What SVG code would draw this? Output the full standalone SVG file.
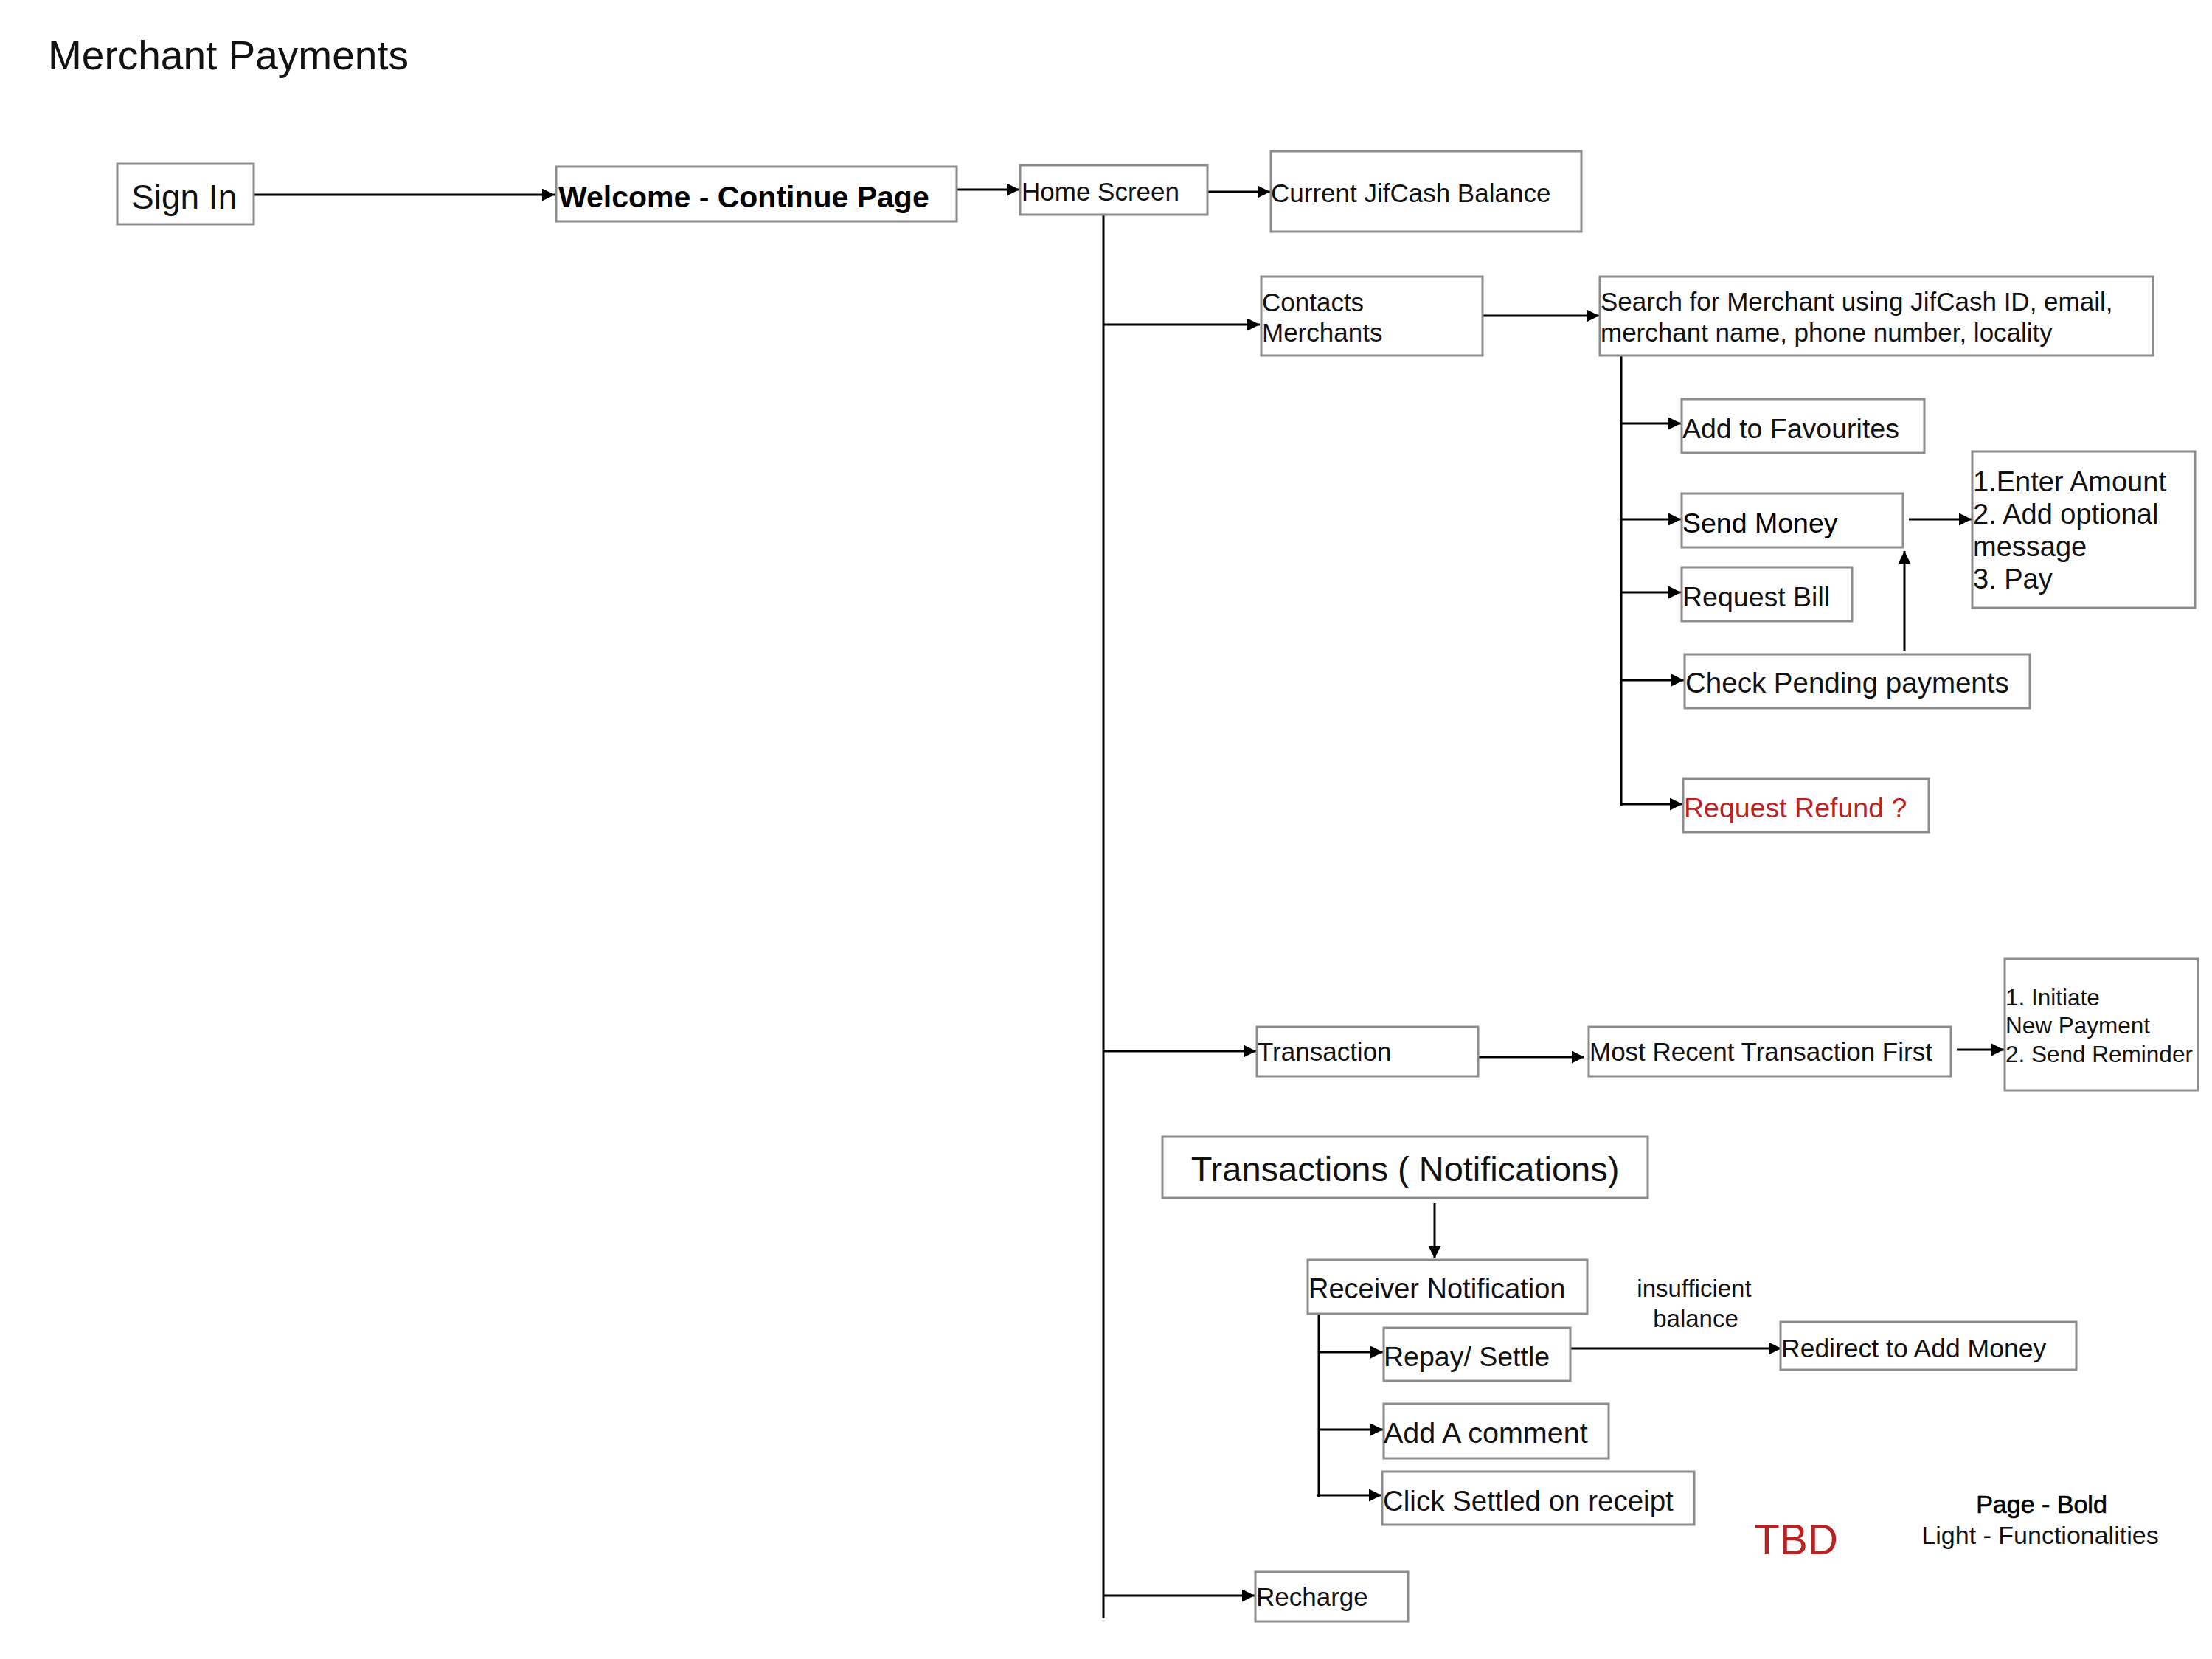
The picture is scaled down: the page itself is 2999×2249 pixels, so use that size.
<svg xmlns="http://www.w3.org/2000/svg" width="2999" height="2249" viewBox="0 0 2999 2249">
<style>
.box{fill:#fff;stroke:#8c8c8c;stroke-width:3}
.t{font-family:"Liberation Sans",Arial,sans-serif;font-size:35px;fill:#111}
.c{stroke:#000;stroke-width:3;fill:none}
.ca{stroke:#000;stroke-width:3;fill:none;marker-end:url(#ah)}
</style>
<defs>
<marker id="ah" viewBox="0 0 10 10" refX="10" refY="5" markerWidth="18" markerHeight="17" markerUnits="userSpaceOnUse" orient="auto"><path d="M0,0 L10,5 L0,10 z" fill="#000"/></marker>
</defs>
<rect width="2999" height="2249" fill="#fff"/>
<text class="t" x="65" y="94" style="font-size:55px">Merchant Payments</text>

<g id="connectors">
<line class="ca" x1="344" y1="264" x2="752" y2="264"/>
<line class="ca" x1="1297" y1="257" x2="1382" y2="257"/>
<line class="ca" x1="1637" y1="260" x2="1722" y2="260"/>
<line class="c" x1="1496" y1="291" x2="1496" y2="2194"/>
<line class="ca" x1="1496" y1="440" x2="1708" y2="440"/>
<line class="ca" x1="2010" y1="428" x2="2168" y2="428"/>
<line class="c" x1="2198" y1="482" x2="2198" y2="1092"/>
<line class="ca" x1="2196" y1="574" x2="2279" y2="574"/>
<line class="ca" x1="2196" y1="704" x2="2279" y2="704"/>
<line class="ca" x1="2196" y1="803" x2="2279" y2="803"/>
<line class="ca" x1="2196" y1="922" x2="2283" y2="922"/>
<line class="ca" x1="2196" y1="1090" x2="2281" y2="1090"/>
<line class="ca" x1="2582" y1="882" x2="2582" y2="747"/>
<line class="ca" x1="2588" y1="704" x2="2673" y2="704"/>
<line class="ca" x1="1496" y1="1425" x2="1703" y2="1425"/>
<line class="ca" x1="2004" y1="1433" x2="2148" y2="1433"/>
<line class="ca" x1="2653" y1="1423" x2="2717" y2="1423"/>
<line class="ca" x1="1945" y1="1631" x2="1945" y2="1706"/>
<line class="c" x1="1788" y1="1781" x2="1788" y2="2029"/>
<line class="ca" x1="1788" y1="1833" x2="1875" y2="1833"/>
<line class="ca" x1="1788" y1="1938" x2="1875" y2="1938"/>
<line class="ca" x1="1786" y1="2027" x2="1873" y2="2027"/>
<line class="ca" x1="2125" y1="1828" x2="2415" y2="1828"/>
<line class="ca" x1="1496" y1="2163" x2="1701" y2="2163"/>
</g>

<g id="n-signin"><rect class="box" x="159" y="222" width="185" height="82"/><text class="t" x="178" y="283" style="font-size:46px">Sign In</text></g>
<g id="n-welcome"><rect class="box" x="754" y="226" width="543" height="74"/><text class="t" x="757" y="281" style="font-size:41px;font-weight:bold;fill:#000">Welcome - Continue Page</text></g>
<g id="n-home"><rect class="box" x="1383" y="224" width="254" height="67"/><text class="t" x="1385" y="272">Home Screen</text></g>
<g id="n-balance"><rect class="box" x="1723" y="205" width="421" height="109"/><text class="t" x="1723" y="274">Current JifCash Balance</text></g>
<g id="n-contacts"><rect class="box" x="1710" y="375" width="300" height="107"/><text class="t" x="1711" y="422">Contacts</text><text class="t" x="1711" y="463">Merchants</text></g>
<g id="n-search"><rect class="box" x="2169" y="375" width="750" height="107"/><text class="t" x="2170" y="421">Search for Merchant using JifCash ID, email,</text><text class="t" x="2170" y="463">merchant name, phone number, locality</text></g>
<g id="n-fav"><rect class="box" x="2280" y="541" width="329" height="73"/><text class="t" x="2281" y="594" style="font-size:37.5px">Add to Favourites</text></g>
<g id="n-send"><rect class="box" x="2280" y="669" width="300" height="73"/><text class="t" x="2281" y="722" style="font-size:37.5px;fill:#000">Send Money</text></g>
<g id="n-reqbill"><rect class="box" x="2280" y="769" width="231" height="73"/><text class="t" x="2281" y="822" style="font-size:37.5px">Request Bill</text></g>
<g id="n-pending"><rect class="box" x="2284" y="887" width="468" height="73"/><text class="t" x="2285" y="939" style="font-size:38.5px">Check Pending payments</text></g>
<g id="n-refund"><rect class="box" x="2282" y="1056" width="333" height="72"/><text class="t" x="2283" y="1108" style="font-size:37.5px;fill:#b82222">Request Refund ?</text></g>
<g id="n-amount"><rect class="box" x="2674" y="612" width="302" height="212"/><text class="t" x="2675" y="666" style="font-size:38px">1.Enter Amount</text><text class="t" x="2675" y="710" style="font-size:38px">2. Add optional</text><text class="t" x="2675" y="754" style="font-size:38px">message</text><text class="t" x="2675" y="798" style="font-size:38px">3. Pay</text></g>
<g id="n-transaction"><rect class="box" x="1704" y="1392" width="300" height="67"/><text class="t" x="1705" y="1438">Transaction</text></g>
<g id="n-recent"><rect class="box" x="2154" y="1392" width="491" height="67"/><text class="t" x="2155" y="1438">Most Recent Transaction First</text></g>
<g id="n-initiate"><rect class="box" x="2718" y="1300" width="262" height="178"/><text class="t" x="2719" y="1363" style="font-size:31.5px">1. Initiate</text><text class="t" x="2719" y="1401" style="font-size:31.5px">New Payment</text><text class="t" x="2719" y="1440" style="font-size:31.5px">2. Send Reminder</text></g>
<g id="n-notif"><rect class="box" x="1576" y="1541" width="658" height="83"/><text class="t" x="1905" y="1601" text-anchor="middle" style="font-size:47px">Transactions ( Notifications)</text></g>
<g id="n-receiver"><rect class="box" x="1773" y="1708" width="379" height="73"/><text class="t" x="1774" y="1760" style="font-size:38px">Receiver Notification</text></g>
<g id="n-repay"><rect class="box" x="1876" y="1800" width="253" height="72"/><text class="t" x="1876" y="1852" style="font-size:37.5px">Repay/ Settle</text></g>
<g id="n-comment"><rect class="box" x="1876" y="1903" width="305" height="74"/><text class="t" x="1876" y="1956" style="font-size:39.5px">Add A comment</text></g>
<g id="n-settled"><rect class="box" x="1874" y="1995" width="423" height="72"/><text class="t" x="1875" y="2048" style="font-size:38.5px">Click Settled on receipt</text></g>
<g id="n-redirect"><rect class="box" x="2414" y="1792" width="401" height="65"/><text class="t" x="2415" y="1840" style="font-size:35.5px">Redirect to Add Money</text></g>
<g id="n-recharge"><rect class="box" x="1702" y="2131" width="207" height="67"/><text class="t" x="1703" y="2177">Recharge</text></g>

<text class="t" x="2297" y="1758" text-anchor="middle" style="font-size:33px">insufficient</text>
<text class="t" x="2299" y="1799" text-anchor="middle" style="font-size:33px">balance</text>
<text class="t" x="2378" y="2107" style="font-size:57px;fill:#b82222">TBD</text>
<text class="t" x="2768" y="2051" text-anchor="middle" style="font-size:34px;fill:#000;stroke:#000;stroke-width:0.7">Page - Bold</text>
<text class="t" x="2766" y="2093" text-anchor="middle" style="font-size:34px">Light - Functionalities</text>
</svg>
